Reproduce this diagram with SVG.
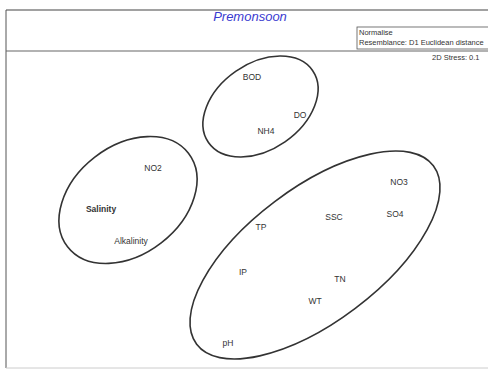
<svg xmlns="http://www.w3.org/2000/svg" width="488" height="369" viewBox="0 0 488 369">
<style>
.lbl{font-family:"Liberation Sans",Arial,sans-serif;font-size:8.5px;fill:#333;text-anchor:middle}
.small{font-family:"Liberation Sans",Arial,sans-serif;font-size:7.5px;fill:#333}
.ell{fill:none;stroke:#333;stroke-width:1.6}
</style>
<rect width="488" height="369" fill="#fff"/>
<g id="frame">
<line x1="6" y1="10" x2="488" y2="10" stroke="#444" stroke-width="1.2"/>
<line x1="6" y1="10" x2="6" y2="368" stroke="#555" stroke-width="1"/>
<line x1="6" y1="51" x2="488" y2="51" stroke="#666" stroke-width="1.2"/>
<line x1="6" y1="368" x2="488" y2="368" stroke="#ccc" stroke-width="1"/>
</g>
<g id="title">
<text x="250" y="21" font-family="'Liberation Sans',Arial,sans-serif" font-size="13" font-style="italic" fill="#3a3ad0" text-anchor="middle">Premonsoon</text>
</g>
<g id="legend">
<rect x="357" y="27" width="140" height="22" fill="#fff" stroke="#555" stroke-width="0.8"/>
<text class="small" x="359" y="35">Normalise</text>
<text class="small" x="359" y="45">Resemblance: D1 Euclidean distance</text>
<text class="small" x="432" y="60">2D Stress: 0.1</text>
</g>
<g id="clusters">
<ellipse id="c1" class="ell" cx="260.5" cy="106.5" rx="63.3" ry="43" transform="rotate(-34.7 260.5 106.5)"/>
<ellipse id="c2" class="ell" cx="128" cy="200" rx="76.4" ry="54.3" transform="rotate(-37.7 128 200)"/>
<ellipse id="c3" class="ell" cx="315" cy="255" rx="148.2" ry="66.9" transform="rotate(-37 315 255)"/>
</g>
<g id="labels">
<text class="lbl" x="252" y="80">BOD</text>
<text class="lbl" x="300" y="118">DO</text>
<text class="lbl" x="266" y="134">NH4</text>
<text class="lbl" x="153" y="171">NO2</text>
<text class="lbl" x="101" y="212" font-weight="bold" fill="#444">Salinity</text>
<text class="lbl" x="131" y="244">Alkalinity</text>
<text class="lbl" x="399" y="185">NO3</text>
<text class="lbl" x="395" y="217">SO4</text>
<text class="lbl" x="334" y="220">SSC</text>
<text class="lbl" x="261" y="230">TP</text>
<text class="lbl" x="243" y="275">IP</text>
<text class="lbl" x="340" y="282">TN</text>
<text class="lbl" x="315" y="304">WT</text>
<text class="lbl" x="228" y="346">pH</text>
</g>
</svg>
